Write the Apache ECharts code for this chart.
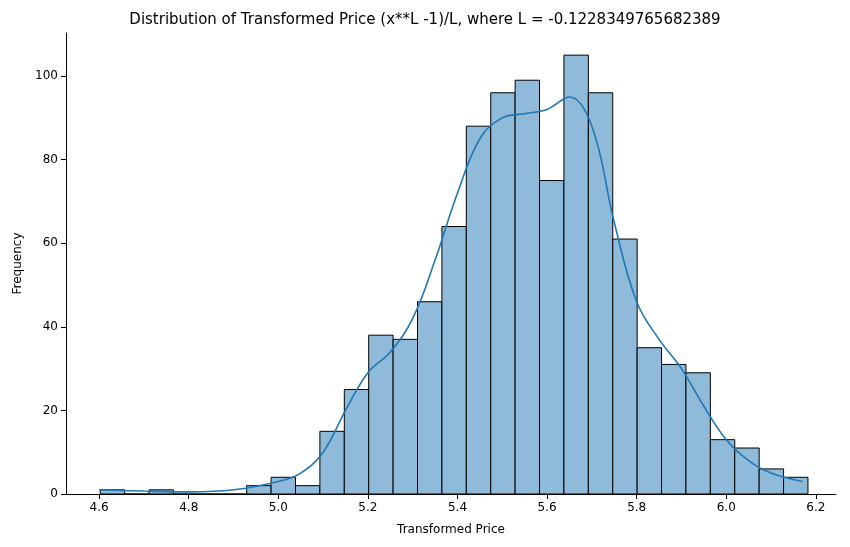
<!DOCTYPE html>
<html><head><meta charset="utf-8">
<script src="https://cdn.jsdelivr.net/npm/echarts@6/dist/echarts.min.js"></script>
<style>html,body{margin:0;padding:0;background:#fff}#c{width:850px;height:547px}</style>
</head><body><div id="c"></div>
<script>
const binStart = 4.6025;
const binWidth = 0.05448;
const counts = [1,0,1,0,0,0,2,4,2,15,25,38,37,46,64,88,96,99,75,105,96,61,35,31,29,13,11,6,4];
const kdeX = [4.6,4.7,4.8,4.9,5.0,5.05,5.1,5.15,5.2,5.25,5.3,5.35,5.4,5.45,5.5,5.55,5.6,5.65,5.7,5.75,5.8,5.85,5.9,5.95,6.0,6.05,6.1,6.17];
const kdeY = [1,0.7,0.5,1,3,5,10,20,29,34,42,56,72,85,90,91,92,95,88,65,46,37,30,21,13,8,5,3];
const xTicks = [4.6,4.8,5.0,5.2,5.4,5.6,5.8,6.0,6.2];

const bars = counts.map((c,i)=>[binStart+i*binWidth, binStart+(i+1)*binWidth, c]);
const chart = echarts.init(document.getElementById('c'));
chart.setOption({
  animation:false,
  title:{text:'Distribution of Transformed Price (x**L -1)/L, where L = -0.1228349765682389',left:'center',top:8,
    textStyle:{fontFamily:'DejaVu Sans',fontSize:15,fontWeight:'normal',color:'#000'}},
  grid:{left:66,right:14,top:33,bottom:53},
  xAxis:{type:'value',min:4.526,max:6.245,name:'Transformed Price',nameLocation:'middle',nameGap:30,
    nameTextStyle:{fontFamily:'DejaVu Sans',fontSize:12,color:'#000'},
    axisLine:{onZero:false,lineStyle:{color:'#000'}},axisTick:{show:true,customValues:xTicks,lineStyle:{color:'#000'}},
    axisLabel:{customValues:xTicks,formatter:v=>v.toFixed(1),fontFamily:'DejaVu Sans',fontSize:12,color:'#000'},
    splitLine:{show:false}},
  yAxis:{type:'value',min:0,max:110.3,interval:20,name:'Frequency',nameLocation:'middle',nameGap:42,
    nameTextStyle:{fontFamily:'DejaVu Sans',fontSize:12,color:'#000'},
    axisLine:{show:true,lineStyle:{color:'#000'}},axisTick:{show:true,lineStyle:{color:'#000'}},
    axisLabel:{fontFamily:'DejaVu Sans',fontSize:12,color:'#000',showMaxLabel:false},splitLine:{show:false}},
  series:[
    {type:'custom',data:bars,encode:{x:[0,1],y:2},
     renderItem:(params,api)=>{
       const p0=api.coord([api.value(0),api.value(2)]);
       const p1=api.coord([api.value(1),0]);
       return {type:'rect',shape:{x:p0[0],y:p0[1],width:p1[0]-p0[0],height:p1[1]-p0[1]},
         style:{fill:'rgb(143,186,217)',stroke:'#000',lineWidth:1}};
     }},
    {type:'line',data:kdeX.map((x,i)=>[x,kdeY[i]]),smooth:0.4,symbol:'none',lineStyle:{color:'#1f77b4',width:1.6},z:5}
  ]
});
</script></body></html>
